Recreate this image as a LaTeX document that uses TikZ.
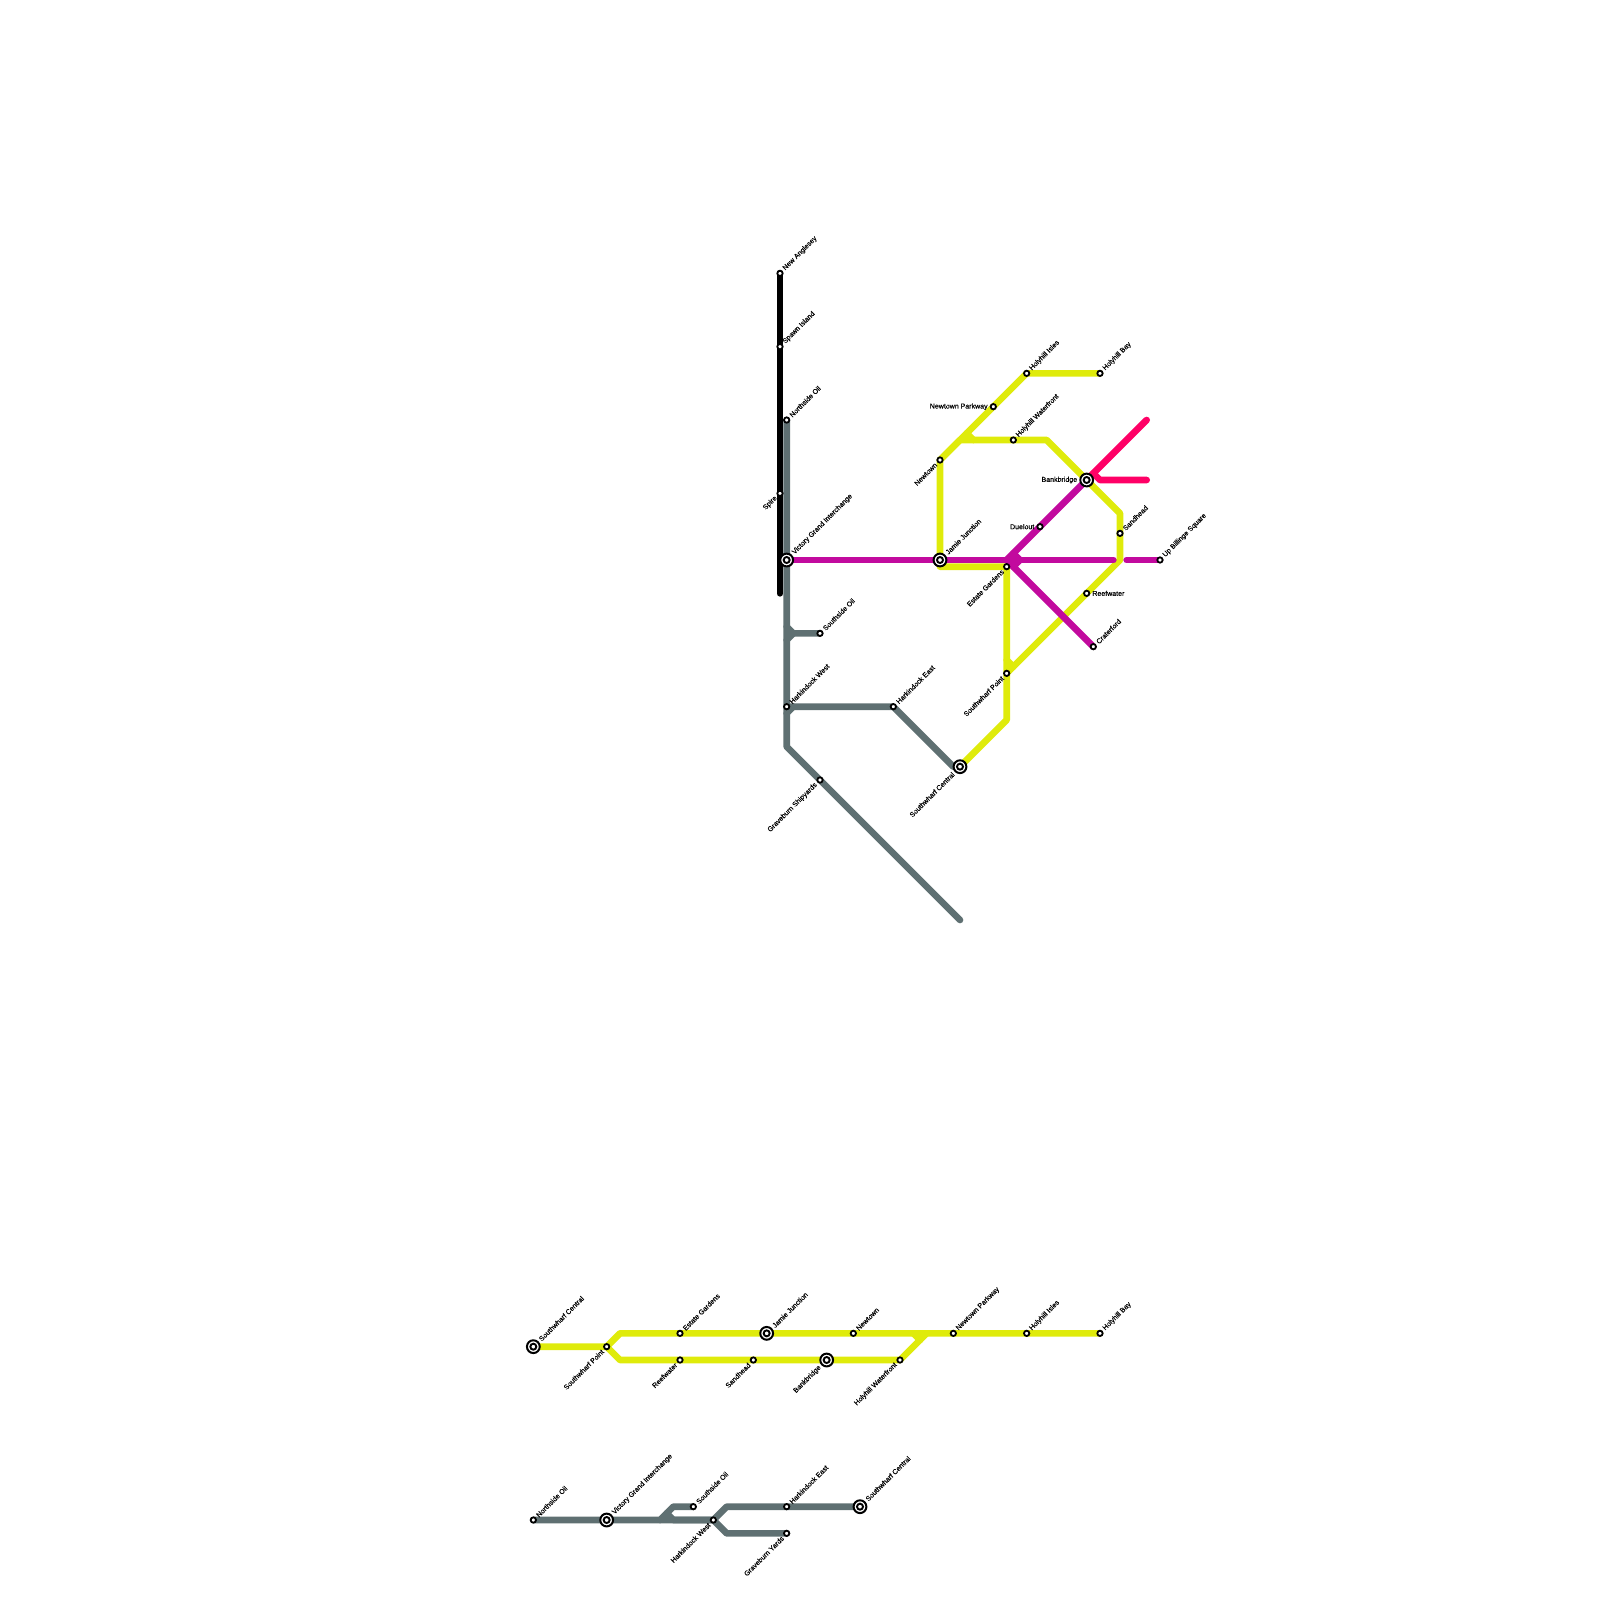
\documentclass[tikz,border=0pt]{standalone}
\usepackage{fontspec}
\setmainfont{Liberation Sans}
\newfontfamily\stationfont[FakeBold=0.35]{Liberation Sans}
\usetikzlibrary{backgrounds}
\definecolor{lineyellow}{HTML}{DFEB0B}
\definecolor{linemagenta}{HTML}{C20A9E}
\definecolor{linepink}{HTML}{FF0066}
\definecolor{linegray}{HTML}{5F7072}
\tikzset{
  stn/.style={circle, draw=black, fill=white, line width=0.27mm, inner sep=0pt, minimum size=0.8mm},
  hub/.style={circle, draw=black, fill=white, line width=0.3mm, inner sep=0pt, minimum size=1.92mm,
    path picture={\draw[line width=0.29mm] (path picture bounding box.center) circle (0.45mm);}},
  tube/.style={line width=1mm, line cap=round, line join=round},
  lbl/.style={font=\stationfont\fontsize{3}{3.6}\selectfont, text=black, inner sep=0.25mm},
  lblne/.style={lbl, rotate=45, anchor=west},
  lblsw/.style={lbl, rotate=45, anchor=east},
  lblw/.style={lbl, anchor=east},
  lble/.style={lbl, anchor=west}
}
\begin{document}
\begin{tikzpicture}[x=0.1cm, y=-0.1cm]
                \useasboundingbox (0,0) rectangle (240,240);
                % stations, upper map
                \node[stn] (NewAnglesey) at (117,41) {};
                \node[stn] (SpawnIsland) at (117,52) {};
                \node[stn] (Spire) at (117,74) {};
                \node[stn] (NorthsideOil) at (118,63) {};
                \node[hub] (VictoryGrand) at (118,84) {};
                \node[stn] (SouthsideOil) at (123,95) {};
                \node[stn] (HarkWest) at (118,106) {};
                \node[stn] (HarkEast) at (134,106) {};
                \node[stn] (Graveburn) at (123,117) {};
                \node[hub] (SouthCentral) at (144,115) {};
                \node[stn] (SouthPoint) at (151,101) {};
                \node[hub] (Jamie) at (141,84) {};
                \node[stn] (EstateGardens) at (151,85) {};
                \node[stn] (Newtown) at (141,69) {};
                \node[stn] (NewtownParkway) at (149,61) {};
                \node[stn] (HolyhillIsles) at (154,56) {};
                \node[stn] (HolyhillBay) at (165,56) {};
                \node[stn] (HolyhillWater) at (152,66) {};
                \node[hub] (Bankbridge) at (163,72) {};
                \node[stn] (Duelout) at (156,79) {};
                \node[stn] (Sandhead) at (168,80) {};
                \node[stn] (Reefwater) at (163,89) {};
                \node[stn] (Craterford) at (164,97) {};
                \node[stn] (UpBillinge) at (174,84) {};
                % stations, yellow strip
                \node[hub] (ySouthCentral) at (80,202) {};
                \node[stn] (ySouthPoint) at (91,202) {};
                \node[stn] (yEstate) at (102,200) {};
                \node[stn] (yReefwater) at (102,204) {};
                \node[hub] (yJamie) at (115,200) {};
                \node[stn] (ySandhead) at (113,204) {};
                \node[hub] (yBankbridge) at (124,204) {};
                \node[stn] (yNewtown) at (128,200) {};
                \node[stn] (yWater) at (135,204) {};
                \node[stn] (yParkway) at (143,200) {};
                \node[stn] (yIsles) at (154,200) {};
                \node[stn] (yBay) at (165,200) {};
                % stations, gray strip
                \node[stn] (gNorthside) at (80,228) {};
                \node[hub] (gVictory) at (91,228) {};
                \node[stn] (gSouthside) at (104,226) {};
                \node[stn] (gHarkWest) at (107,228) {};
                \node[stn] (gHarkEast) at (118,226) {};
                \node[stn] (gYards) at (118,230) {};
                \node[hub] (gCentral) at (129,226) {};
                % free ends
                \coordinate (blackEnd) at (117,89);
                \coordinate (grayEnd) at (144,138);
                \coordinate (pinkEndA) at (172,63);
                \coordinate (pinkEndB) at (172,72);
                \begin{scope}[on background layer]
                % gray lines
                \draw[tube, linegray] (NorthsideOil.center) -- (HarkWest.center) -- (118,112) -- (grayEnd);
                \draw[tube, linegray] (118,94) -- (119,95) -- (SouthsideOil.center);
                \draw[tube, linegray] (119,95) -- (118,96);
                \draw[tube, linegray] (HarkWest.center) -- (HarkEast.center) -- (143,115) -- (SouthCentral.center);
                \draw[tube, linegray] (119,106) -- (118,107);
                % black line
                \draw[tube, black] (NewAnglesey.center) -- (blackEnd);
                % yellow lines
                \draw[tube, lineyellow] (SouthCentral.center) -- (151,108) -- (EstateGardens.center) -- (141,85) -- (Jamie.center) -- (Newtown.center) -- (HolyhillIsles.center) -- (HolyhillBay.center);
                \draw[tube, lineyellow] (Newtown.center) -- (144,66) -- (HolyhillWater.center) -- (157,66) -- (Bankbridge.center) -- (168,77) -- (168,84) -- (SouthPoint.center);
                \draw[tube, lineyellow] (152,100) -- (151,99);
                \draw[tube, lineyellow] (146,66) -- (145,65);
                % magenta lines
                \draw[tube, linemagenta] (VictoryGrand.center) -- (167,84);
                \draw[tube, linemagenta] (169,84) -- (UpBillinge.center);
                \draw[tube, linemagenta] (151,84) -- (152,83) -- (Bankbridge.center);
                \draw[tube, linemagenta] (152,83) -- (153,84) -- (152,85) -- (Craterford.center);
                \draw[tube, linemagenta] (151,84) -- (152,85);
                % pink lines
                \draw[tube, linepink] (Bankbridge.center) -- (pinkEndA);
                \draw[tube, linepink] (164,71) -- (165,72) -- (pinkEndB);
                % yellow strip
                \draw[tube, lineyellow] (ySouthCentral.center) -- (ySouthPoint.center) -- (93,200) -- (yBay.center);
                \draw[tube, lineyellow] (ySouthPoint.center) -- (93,204) -- (yWater.center) -- (139,200);
                \draw[tube, lineyellow] (137,200) -- (138,201);
                % gray strip
                \draw[tube, linegray] (gNorthside.center) -- (99,228) -- (101,226) -- (gSouthside.center);
                \draw[tube, linegray] (100,227) -- (101,228) -- (gHarkWest.center);
                \draw[tube, linegray] (99,228) -- (gHarkWest.center) -- (109,226) -- (gCentral.center);
                \draw[tube, linegray] (gHarkWest.center) -- (109,230) -- (gYards.center);
                \end{scope}
                % labels
                \node[lblne] (lNewAnglesey) at (NewAnglesey.45) {New Anglesey};
                \node[lblne] (lSpawnIsland) at (SpawnIsland.45) {Spawn Island};
                \node[lblsw] (lSpire) at (Spire.225) {Spire};
                \node[lblne] (lNorthsideOil) at (NorthsideOil.45) {Northside Oil};
                \node[lblne] (lVictoryGrand) at (VictoryGrand.45) {Victory Grand Interchange};
                \node[lblne] (lSouthsideOil) at (SouthsideOil.45) {Southside Oil};
                \node[lblne] (lHarkWest) at (HarkWest.45) {Harkindock West};
                \node[lblne] (lHarkEast) at (HarkEast.45) {Harkindock East};
                \node[lblsw] (lGraveburn) at (Graveburn.225) {Graveburn Shipyards};
                \node[lblsw] (lSouthCentral) at (SouthCentral.225) {Southwharf Central};
                \node[lblsw] (lSouthPoint) at (SouthPoint.225) {Southwharf Point};
                \node[lblne] (lJamie) at (Jamie.45) {Jamie Junction};
                \node[lblsw] (lEstateGardens) at (EstateGardens.225) {Estate Gardens};
                \node[lblsw] (lNewtown) at (Newtown.225) {Newtown};
                \node[lblw] (lNewtownParkway) at (NewtownParkway.west) {Newtown Parkway};
                \node[lblne] (lHolyhillIsles) at (HolyhillIsles.45) {Holyhill Isles};
                \node[lblne] (lHolyhillBay) at (HolyhillBay.45) {Holyhill Bay};
                \node[lblne] (lHolyhillWater) at (HolyhillWater.45) {Holyhill Waterfront};
                \node[lblw] (lBankbridge) at (Bankbridge.west) {Bankbridge};
                \node[lblw] (lDuelout) at (Duelout.west) {Duelout};
                \node[lblne] (lSandhead) at (Sandhead.45) {Sandhead};
                \node[lble] (lReefwater) at (Reefwater.east) {Reefwater};
                \node[lblne] (lCraterford) at (Craterford.45) {Craterford};
                \node[lblne] (lUpBillinge) at (UpBillinge.45) {Up Billinge Square};
                \node[lblne] (lySouthCentral) at (ySouthCentral.45) {Southwharf Central};
                \node[lblsw] (lySouthPoint) at (ySouthPoint.225) {Southwharf Point};
                \node[lblne] (lyEstate) at (yEstate.45) {Estate Gardens};
                \node[lblsw] (lyReefwater) at (yReefwater.225) {Reefwater};
                \node[lblne] (lyJamie) at (yJamie.45) {Jamie Junction};
                \node[lblsw] (lySandhead) at (ySandhead.225) {Sandhead};
                \node[lblsw] (lyBankbridge) at (yBankbridge.225) {Bankbridge};
                \node[lblne] (lyNewtown) at (yNewtown.45) {Newtown};
                \node[lblsw] (lyWater) at (yWater.225) {Holyhill Waterfront};
                \node[lblne] (lyParkway) at (yParkway.45) {Newtown Parkway};
                \node[lblne] (lyIsles) at (yIsles.45) {Holyhill Isles};
                \node[lblne] (lyBay) at (yBay.45) {Holyhill Bay};
                \node[lblne] (lgNorthside) at (gNorthside.45) {Northside Oil};
                \node[lblne] (lgVictory) at (gVictory.45) {Victory Grand Interchange};
                \node[lblne] (lgSouthside) at (gSouthside.45) {Southside Oil};
                \node[lblsw] (lgHarkWest) at (gHarkWest.225) {Harkindock West};
                \node[lblne] (lgHarkEast) at (gHarkEast.45) {Harkindock East};
                \node[lblsw] (lgYards) at (gYards.225) {Graveburn Yards};
                \node[lblne] (lgCentral) at (gCentral.45) {Southwharf Central};
\end{tikzpicture}
\end{document}
